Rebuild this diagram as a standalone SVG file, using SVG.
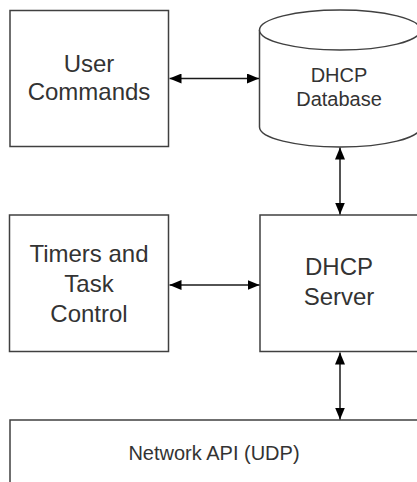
<svg xmlns="http://www.w3.org/2000/svg" width="417" height="482" viewBox="0 0 417 482">
<style>
.box{fill:#fff;stroke:#404040;stroke-width:1.5}
.t{font-family:"Liberation Sans",Arial,sans-serif;fill:#333;text-anchor:middle}
.big{font-size:24px}
.small{font-size:20px}
.conn{stroke:#1a1a1a;stroke-width:1.5;fill:none;marker-start:url(#ah);marker-end:url(#ah)}
</style>
<defs>
<marker id="ah" viewBox="0 0 12 10" refX="12" refY="5" markerWidth="12" markerHeight="10" markerUnits="userSpaceOnUse" orient="auto-start-reverse">
<path d="M0,0 L12,5 L0,10 z" fill="#000"/>
</marker>
</defs>
<rect width="417" height="482" fill="#fff"/>
<g id="user-commands">
<rect class="box" x="10" y="10.5" width="158.5" height="136"/>
<text class="t big" x="89" y="71.5">User</text>
<text class="t big" x="89" y="100">Commands</text>
</g>
<g id="dhcp-database">
<path class="box" d="M259.5,30 L259.5,127 A80.5,20 0 0 0 420.5,127 L420.5,30"/>
<ellipse class="box" cx="340" cy="30" rx="80.5" ry="20"/>
<text class="t small" x="339" y="81.5">DHCP</text>
<text class="t small" x="339" y="106">Database</text>
</g>
<g id="timers">
<rect class="box" x="9.5" y="215" width="159" height="136.5"/>
<text class="t big" x="89" y="261.5">Timers and</text>
<text class="t big" x="89" y="291.5">Task</text>
<text class="t big" x="89" y="321.5">Control</text>
</g>
<g id="dhcp-server">
<rect class="box" x="260" y="215" width="170" height="136.5"/>
<text class="t big" x="339" y="275">DHCP</text>
<text class="t big" x="339" y="305">Server</text>
</g>
<g id="network-api">
<rect class="box" x="10" y="420" width="420" height="80"/>
<text class="t small" x="214" y="460">Network API (UDP)</text>
</g>
<g id="connectors">
<path class="conn" d="M169.5,78.5 L259,78.5"/>
<path class="conn" d="M340,147.5 L340,214.5"/>
<path class="conn" d="M169.5,285 L259.5,285"/>
<path class="conn" d="M340,352.5 L340,419.5"/>
</g>
</svg>
